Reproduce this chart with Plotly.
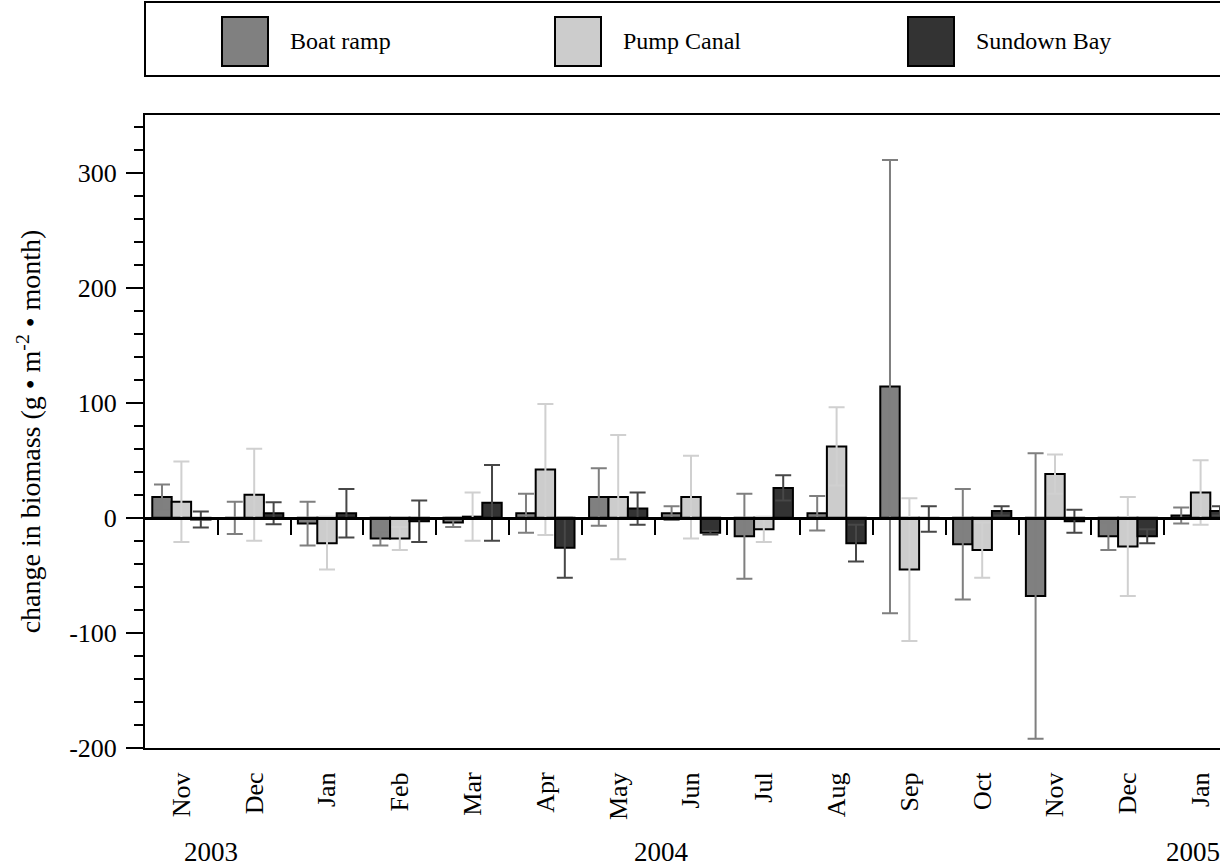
import plotly.graph_objects as go

# ---------------- data ----------------
months = ["Nov", "Dec", "Jan", "Feb", "Mar", "Apr", "May", "Jun", "Jul",
          "Aug", "Sep", "Oct", "Nov", "Dec", "Jan"]
years = ["2003", "2004", "2005"]
year_pos = [0.4, 6.6, 13.9]
series = ["Boat ramp", "Pump Canal", "Sundown Bay"]
y_ticks = [-200, -100, 0, 100, 200, 300]
y_ticklabels = ["-200", "-100", "0", "100", "200", "300"]

boat = [18, 0, -5, -18, -4, 4, 18, 4, -16, 4, 114, -23, -68, -16, 2]
boat_err = [11, 14, 19, 6, 4, 17, 25, 6, 37, 15, 197, 48, 124, 12, 7]
pump = [14, 20, -22, -18, 1, 42, 18, 18, -10, 62, -45, -28, 38, -25, 22]
pump_err = [35, 40, 23, 10, 21, 57, 54, 36, 11, 34, 62, 24, 17, 43, 28]
sundown = [-1.5, 4, 4, -3, 13, -26, 8, -13, 26, -22, -1, 6, -3, -16, 6]
sundown_err = [7, 9.5, 21, 18, 33, 26, 14, 1.5, 11, 16, 11, 4, 10, 6, 4]

fills = ["#808080", "#cccccc", "#333333"]
err_colors = ["#7f7f7f", "#d0d0d0", "#474747"]

# ---------------- layout constants ----------------
W, H = 1220, 868
ML, MR, MT, MB = 145, 0, 115, 120
YMIN, YMAX = -200, 350
FONT = "Liberation Serif, Times New Roman, serif"

x = list(range(len(months)))
xrange_ = [-0.5, -0.5 + (W - ML - MR) / 72.8]

fig = go.Figure()
for name, vals, errs, fc, ec in zip(series, [boat, pump, sundown],
                                    [boat_err, pump_err, sundown_err],
                                    fills, err_colors):
    fig.add_trace(go.Bar(
        x=x, y=vals, name=name,
        marker=dict(color=fc, line=dict(color="black", width=2)),
        error_y=dict(type="data", array=errs, color=ec, thickness=2, width=8),
        showlegend=False,
    ))

# invisible trace to carry the zero-line axis
fig.add_trace(go.Scatter(x=[None], y=[None], xaxis="x2", yaxis="y",
                         showlegend=False, hoverinfo="skip"))

pw = W - ML - MR
ph = H - MT - MB


def px_x(p):
    return (p - ML) / pw


def px_y(p):
    return (H - MB - p) / ph


shapes = []
annotations = []
# legend frame
shapes.append(dict(type="rect", xref="paper", yref="paper",
                   x0=px_x(145), x1=px_x(1240), y0=px_y(76), y1=px_y(2),
                   line=dict(color="black", width=2), fillcolor="white"))
sw_left = [222, 555, 908]
for name, fc, sx in zip(series, fills, sw_left):
    shapes.append(dict(type="rect", xref="paper", yref="paper",
                       x0=px_x(sx), x1=px_x(sx + 46), y0=px_y(66), y1=px_y(17),
                       line=dict(color="black", width=2), fillcolor=fc))
    annotations.append(dict(xref="paper", yref="paper", x=px_x(sx + 66), y=px_y(41),
                            text=name, showarrow=False, xanchor="left",
                            yanchor="middle",
                            font=dict(family=FONT, size=24, color="black")))

for yr, xp in zip(years, year_pos):
    annotations.append(dict(xref="x", yref="paper", x=xp, y=px_y(852),
                            text=yr, showarrow=False, xanchor="center",
                            yanchor="middle",
                            font=dict(family=FONT, size=27, color="black")))

fig.update_layout(
    width=W, height=H,
    margin=dict(l=ML, r=MR, t=MT, b=MB),
    paper_bgcolor="white", plot_bgcolor="white",
    barmode="group", bargap=0.2, bargroupgap=0,
    font=dict(family=FONT, size=26, color="black"),
    shapes=shapes, annotations=annotations,
    xaxis=dict(range=xrange_, tickmode="array", tickvals=x, ticktext=months,
               tickangle=-90, ticks="", showgrid=False, zeroline=False,
               showline=True, linecolor="black", linewidth=2, mirror=True,
               ticklabelstandoff=12,
               tickfont=dict(family=FONT, size=26)),
    xaxis2=dict(overlaying="x", matches="x", anchor="free",
                position=(0 - YMIN) / (YMAX - YMIN),
                range=xrange_, tickmode="array",
                tickvals=[i + 0.5 for i in x[:-1]],
                ticks="outside", ticklen=15, tickwidth=2, tickcolor="black",
                showticklabels=False, showgrid=False, zeroline=False,
                showline=True, linecolor="black", linewidth=3),
    yaxis=dict(range=[YMIN, YMAX], tickmode="array", tickvals=y_ticks,
               ticktext=y_ticklabels,
               ticks="outside", ticklen=17, tickwidth=2, tickcolor="black",
               minor=dict(tickmode="linear", dtick=20, tick0=0, ticks="outside",
                          ticklen=9, tickwidth=2, tickcolor="black",
                          showgrid=False),
               showgrid=False, zeroline=False, showline=True,
               linecolor="black", linewidth=2, ticklabelstandoff=4,
               tickfont=dict(family=FONT, size=26),
               title=dict(text="change in biomass (g \u2022 m<sup>-2</sup> \u2022 month)",
                          font=dict(family=FONT, size=28), standoff=20)),
)

fig.write_html("out.html")
